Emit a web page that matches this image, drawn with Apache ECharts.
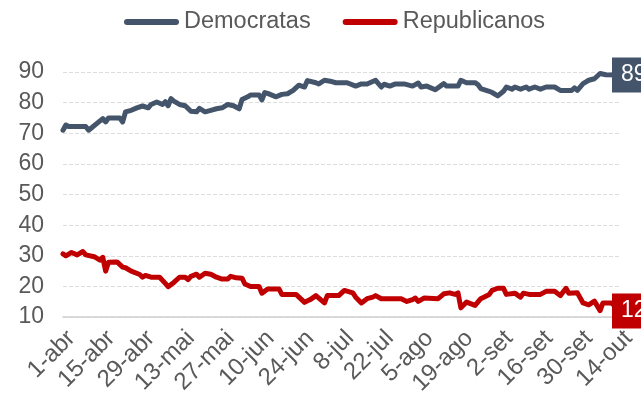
<!DOCTYPE html>
<html>
<head>
<meta charset="utf-8">
<title>Democratas vs Republicanos</title>
<script src="https://cdn.jsdelivr.net/npm/echarts@6/dist/echarts.min.js"></script>
<style>
  html, body { margin: 0; padding: 0; background: #ffffff; }
  #chart { width: 641px; height: 398px; }
</style>
</head>
<body>
<div id="chart"></div>
<script>
// Tick labels on the date axis, one every 14 days starting 1 April
const tickLabels = ['1-abr', '15-abr', '29-abr', '13-mai', '27-mai', '10-jun', '24-jun',
  '8-jul', '22-jul', '5-ago', '19-ago', '2-set', '16-set', '30-set', '14-out'];

// Days counted from 1 April, and the matching values for each party
const demDays = [0, 1, 2, 8, 9, 14, 15, 16, 20, 21, 22, 24, 26, 28, 30, 31, 33, 35, 36, 37,
  38, 39, 41, 43, 45, 47, 48, 50, 52, 54, 56, 58, 60, 62, 63, 65, 66, 69, 70, 71,
  72, 75, 77, 79, 81, 83, 85, 86, 89, 90, 92, 94, 96, 100, 103, 105, 107, 110, 112, 113,
  115, 117, 120, 123, 125, 126, 128, 131, 134, 135, 139, 140, 142, 145, 146, 147, 150, 151, 153, 155,
  156, 158, 159, 161, 163, 164, 166, 168, 170, 173, 175, 179, 180, 181, 183, 185, 187, 189, 191, 196];
const demValues = [71, 72.7, 72.2, 72.2, 71, 74.8, 73.7, 75, 75, 73.7, 77, 77.5, 78.3, 78.9, 78.3, 79.4, 80.2, 79.4, 80.3, 79,
  81.3, 80.5, 79.4, 79, 77.2, 77, 78.1, 77, 77.5, 78, 78.3, 79.4, 79, 78, 81, 81.9, 82.5, 82.5, 80.9, 83.3,
  83, 81.9, 82.7, 82.9, 84, 85.7, 85.1, 87.2, 86.5, 86.1, 87.3, 87, 86.5, 86.5, 85.4, 86.1, 86.1, 87.3, 85.1, 86,
  85.4, 86.1, 86.1, 85.4, 86.4, 85.1, 85.4, 84.2, 86.2, 85.4, 85.4, 87.3, 86.5, 86.5, 85.9, 84.6, 83.7, 83.3, 82.2, 83.7,
  85.1, 84.4, 85.1, 84.4, 85.1, 84.4, 85.1, 84.4, 85.1, 85.1, 84, 84, 84.8, 84, 86.2, 87.3, 87.8, 89.5, 89.1, 89];

const repDays = [0, 1, 3, 5, 7, 8, 11, 13, 14, 15, 16, 19, 21, 22, 24, 27, 28, 29, 31, 34,
  36, 37, 39, 41, 43, 44, 45, 47, 48, 50, 52, 54, 56, 58, 59, 61, 63, 64, 66, 69,
  70, 72, 76, 77, 82, 85, 87, 89, 92, 93, 97, 99, 102, 103, 105, 107, 109, 110, 112, 119,
  121, 123, 124, 125, 127, 132, 134, 136, 138, 139, 140, 142, 145, 147, 150, 151, 153, 155, 156, 159,
  161, 162, 164, 168, 170, 173, 175, 177, 178, 181, 183, 185, 187, 189, 190, 193, 196];
const repValues = [30.6, 30, 31.1, 30.3, 31.4, 30.3, 29.7, 28.6, 29.5, 25, 27.9, 28, 26.3, 26.1, 25, 23.9, 23, 23.6, 23, 23,
  21, 19.9, 21.3, 23, 23, 22.2, 23.3, 24, 23, 24.3, 24, 23, 22.4, 22.4, 23.3, 22.8, 22.7, 20.8, 20, 20,
  17.8, 19.2, 19.2, 17.4, 17.4, 14.8, 15.7, 17, 14.6, 17, 17, 18.7, 17.9, 16.5, 14.6, 16, 16.5, 17, 16, 16,
  15.1, 15.7, 16.2, 15.1, 16.2, 16, 17.6, 17.9, 17.4, 17.9, 13, 14.9, 13.8, 16, 17.4, 18.7, 19.4, 19.4, 17.4, 17.8,
  16.5, 17.8, 17.4, 17.4, 18.4, 18.4, 17, 19.4, 17.8, 17.9, 14.6, 14, 15.2, 12.1, 14.6, 14.6, 12];

const DEM_COLOR = '#44546A';
const REP_COLOR = '#C00000';
const TEXT_COLOR = '#595959';
const FONT = 'Liberation Sans, Arial, sans-serif';

function pairs(days, values) {
  return days.map((d, i) => [d, values[i]]);
}

function lineSeries(name, color, data) {
  return {
    name: name,
    type: 'line',
    data: data,
    showSymbol: false,
    symbol: 'none',
    smooth: false,
    lineStyle: { color: color, width: 5, cap: 'round', join: 'round' },
    itemStyle: { color: color },
    endLabel: {
      show: true,
      formatter: p => String(Math.round(p.value[1])),
      color: '#ffffff',
      fontFamily: FONT,
      fontSize: 23,
      backgroundColor: color,
      padding: [6, 8, 6, 9],
      distance: 0,
      offset: [-8, 0]
    },
    emphasis: { disabled: true },
    animation: false
  };
}

const legendIcon = 'path://M3,0 L52,0 A3,3 0 0 1 52,6 L3,6 A3,3 0 0 1 3,0 Z';

const chart = echarts.init(document.getElementById('chart'), null, { renderer: 'canvas' });
chart.setOption({
  backgroundColor: '#ffffff',
  animation: false,
  textStyle: { fontFamily: FONT },
  legend: {
    top: 5,
    left: 119,
    itemWidth: 55,
    itemHeight: 6,
    itemGap: 32,
    icon: legendIcon,
    textStyle: { color: TEXT_COLOR, fontSize: 23.5, fontFamily: FONT },
    data: [
      { name: 'Democratas', itemStyle: { color: DEM_COLOR } },
      { name: 'Republicanos', itemStyle: { color: REP_COLOR } }
    ]
  },
  grid: { left: 63, right: 21, top: 72, bottom: 80, containLabel: false },
  xAxis: {
    type: 'value',
    min: 0,
    max: 196,
    interval: 14,
    axisLine: { show: true, lineStyle: { color: '#D0D0D0', width: 1.5 } },
    axisTick: { show: false },
    splitLine: { show: false },
    axisLabel: {
      rotate: 45,
      margin: 9,
      verticalAlign: 'top',
      color: TEXT_COLOR,
      fontSize: 24,
      fontFamily: FONT,
      showMinLabel: true,
      showMaxLabel: true,
      hideOverlap: false,
      formatter: v => tickLabels[Math.round(v / 14)] || ''
    }
  },
  yAxis: {
    type: 'value',
    min: 10,
    max: 90,
    interval: 10,
    axisLine: { show: false },
    axisTick: { show: false },
    splitLine: { show: true, lineStyle: { color: '#DDDDDD', type: [4, 2], width: 1 } },
    axisLabel: { color: TEXT_COLOR, fontSize: 23, fontFamily: FONT, margin: 19 }
  },
  series: [
    lineSeries('Democratas', DEM_COLOR, pairs(demDays, demValues)),
    lineSeries('Republicanos', REP_COLOR, pairs(repDays, repValues))
  ]
});
</script>
</body>
</html>
